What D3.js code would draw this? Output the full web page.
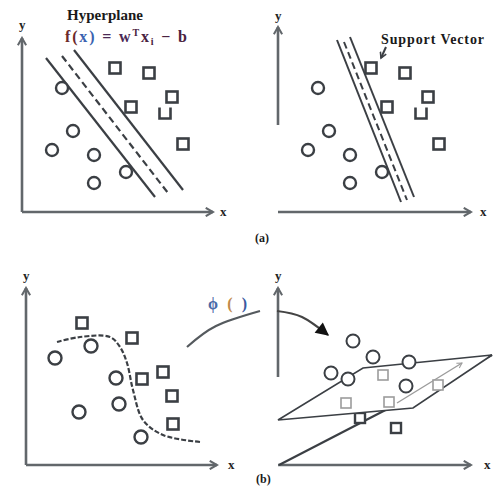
<!DOCTYPE html>
<html><head><meta charset="utf-8">
<script src="https://cdn.jsdelivr.net/npm/d3@7/dist/d3.min.js"></script>
<style>body{margin:0;background:#fff}svg{display:block}</style>
</head><body>
<svg id="c" width="494" height="501"></svg>
<script>
// ---- data (diagram coordinates, per panel, origin = axis corner) ----
const linSquares = [[93,144],[127,139],[150,115],[109,105],[143,99],[161,68]];
const linOpenTop = [false,false,false,false,true,false];
const linCircles = [[40,124],[51,81],[30,62],[72,57],[104,40],[72,29]];
const wideMargin = [[[24,154],[133,15]],[[40,156],[146,19]],[[52,162],[161,22]]];
const wideStyle = ["solid","dashed","solid"];
const narrowMargin = [[[59,172],[123,10]],[[66,170],[129,12]],[[72,175],[136,15]]];
const supportArrow = [[108,165],[103,154]];
const nlSquares = [[56,142],[106,127],[116,86],[137,93],[146,69],[147,41]];
const nlCircles = [[29,107],[65,119],[90,87],[53,53],[93,61],[115,28]];
const nlBoundary = [[31,123],[54,128],[84,128],[94,118],[101,102],[107,75],[117,45],[137,30],[174,23]];
const fCircles = [[75,124],[95,108],[53,92],[70,86],[131,103],[128,79]];
const fSquaresAbove = [[105,90],[68,62],[111,63],[160,80]];
const fSquaresBelow = [[82,47],[118,37]];
const fPlane = [[0,45],[85,97],[214,110],[135,57]];
const fFloorLine = [[1,0],[214,110]];
const fNormal = [[119,62],[184,102]];
const phiArc1 = [[-91,118],[-62,139],[-18,154]];
const phiArc2 = [[-1,154],[24,148],[50,130]];
// panels: origin and axis extents
const panels = [
  {id:"a1", ox:22, oy:212, xMax:191, yMin:0, yMax:174},
  {id:"a2", ox:278, oy:212, xMax:193, yMin:87, yMax:185},
  {id:"b1", ox:26, oy:465, xMax:191, yMin:0, yMax:177},
  {id:"b2", ox:278, oy:465, xMax:193, yMin:88, yMax:177}
];
const axisLabelOffsets = {a1:[7,-13], a2:[9,-11], b1:[11,-12], b2:[13,-12]};

const INK = "#3b3f44", AXIS = "#62676b", LIGHT = "#9c9c9c";
const svg = d3.select("#c");
const defs = svg.append("defs");
defs.append("marker").attr("id","ax").attr("viewBox","0 0 10 10").attr("refX",8).attr("refY",5)
  .attr("markerWidth",4).attr("markerHeight",4).attr("orient","auto").attr("markerUnits","strokeWidth")
  .append("path").attr("d","M1,1 L8,5 L1,9").attr("fill","none").attr("stroke",AXIS).attr("stroke-width",2);
defs.append("marker").attr("id","blk").attr("viewBox","0 0 10 10").attr("refX",9).attr("refY",5)
  .attr("markerWidth",7).attr("markerHeight",6).attr("orient","auto").attr("markerUnits","strokeWidth")
  .append("path").attr("d","M0,0 L10,5 L0,10 z").attr("fill","#111");
defs.append("marker").attr("id","sv").attr("viewBox","0 0 10 10").attr("refX",8).attr("refY",5)
  .attr("markerWidth",4).attr("markerHeight",4).attr("orient","auto").attr("markerUnits","strokeWidth")
  .append("path").attr("d","M1,1 L8,5 L1,9").attr("fill","none").attr("stroke",INK).attr("stroke-width",2);
defs.append("marker").attr("id","gr").attr("viewBox","0 0 10 10").attr("refX",8).attr("refY",5)
  .attr("markerWidth",5).attr("markerHeight",5).attr("orient","auto").attr("markerUnits","strokeWidth")
  .append("path").attr("d","M1,1 L8,5 L1,9").attr("fill","none").attr("stroke",LIGHT).attr("stroke-width",1.5);

function scales(p){
  return {
    x: d3.scaleLinear().domain([0,200]).range([p.ox, p.ox+200]),
    y: d3.scaleLinear().domain([0,200]).range([p.oy, p.oy-200])
  };
}
const S = {};
panels.forEach(p => { S[p.id] = scales(p); });

// axes
panels.forEach(p => {
  const {x,y} = S[p.id];
  const g = svg.append("g");
  g.append("line").attr("x1",x(0)).attr("y1",y(0)).attr("x2",x(p.xMax)).attr("y2",y(0))
    .attr("stroke",AXIS).attr("stroke-width",2.6).attr("marker-end","url(#ax)");
  g.append("line").attr("x1",x(0)).attr("y1",y(p.yMin)).attr("x2",x(0)).attr("y2",y(p.yMax))
    .attr("stroke",AXIS).attr("stroke-width",2.6).attr("marker-end","url(#ax)");
  const o = axisLabelOffsets[p.id];
  g.append("text").attr("x",x(p.xMax)+o[0]).attr("y",y(0)+4).text("x")
    .attr("font-family","Liberation Serif").attr("font-weight","bold").attr("font-size",13).attr("fill","#222");
  g.append("text").attr("x",x(0)-3).attr("y",y(p.yMax)+o[1]+4).text("y")
    .attr("font-family","Liberation Serif").attr("font-weight","bold").attr("font-size",13).attr("fill","#222");
});

function drawSquares(g, s, data, size, color, sw, openTop){
  data.forEach((d,i) => {
    const cx = s.x(d[0]), cy = s.y(d[1]), h = size/2;
    if (openTop && openTop[i]) {
      g.append("path").attr("d",`M${cx-h},${cy-h} L${cx-h},${cy+h} L${cx+h},${cy+h} L${cx+h},${cy-h}`)
        .attr("fill","none").attr("stroke",color).attr("stroke-width",sw);
    } else {
      g.append("rect").attr("x",cx-h).attr("y",cy-h).attr("width",size).attr("height",size)
        .attr("fill","#fff").attr("stroke",color).attr("stroke-width",sw);
    }
  });
}
function drawCircles(g, s, data, r, color, sw){
  g.selectAll(null).data(data).join("circle")
    .attr("cx",d=>s.x(d[0])).attr("cy",d=>s.y(d[1])).attr("r",r)
    .attr("fill","#fff").attr("stroke",color).attr("stroke-width",sw);
}
function drawSeg(g, s, seg, style, color, sw){
  g.append("line").attr("x1",s.x(seg[0][0])).attr("y1",s.y(seg[0][1]))
    .attr("x2",s.x(seg[1][0])).attr("y2",s.y(seg[1][1]))
    .attr("stroke",color).attr("stroke-width",sw)
    .attr("stroke-dasharray", style==="dashed" ? "7,4" : null);
}

// ---- panel a1 ----
{
  const s = S.a1, g = svg.append("g");
  wideMargin.forEach((seg,i) => drawSeg(g, s, seg, wideStyle[i], INK, 2.2));
  drawSquares(g, s, linSquares, 11, INK, 2.6, linOpenTop);
  drawCircles(g, s, linCircles, 6, INK, 2.4);
  g.append("text").attr("x",67).attr("y",20).text("Hyperplane")
    .attr("font-family","Liberation Serif").attr("font-weight","bold").attr("font-size",15)
    .attr("textLength",76).attr("fill","#1a1a1a");
  const t = g.append("text").attr("x",65).attr("y",42)
    .attr("font-family","Liberation Serif").attr("font-weight","bold").attr("font-size",16)
    .attr("fill","#4a2240").attr("textLength",122).attr("lengthAdjust","spacing");
  t.append("tspan").text("f(").attr("fill","#6b2a2a");
  t.append("tspan").text("x").attr("fill","#3a62b0");
  t.append("tspan").text(")").attr("fill","#3a62b0");
  t.append("tspan").text(" = w").attr("fill","#4a2a55");
  t.append("tspan").text("T").attr("font-size",10).attr("dy",-6);
  t.append("tspan").text("x").attr("dy",6);
  t.append("tspan").text("i").attr("font-size",10).attr("dy",3);
  t.append("tspan").text(" − b").attr("dy",-3);
}
// ---- panel a2 ----
{
  const s = S.a2, g = svg.append("g");
  narrowMargin.forEach((seg,i) => drawSeg(g, s, seg, wideStyle[i], INK, 2));
  drawSquares(g, s, linSquares, 11, INK, 2.6, linOpenTop);
  drawCircles(g, s, linCircles, 6, INK, 2.4);
  g.append("line").attr("x1",s.x(supportArrow[0][0])).attr("y1",s.y(supportArrow[0][1]))
    .attr("x2",s.x(supportArrow[1][0])).attr("y2",s.y(supportArrow[1][1]))
    .attr("stroke",INK).attr("stroke-width",2).attr("marker-end","url(#sv)");
  g.append("text").attr("x",381).attr("y",44).text("Support Vector")
    .attr("font-family","Liberation Serif").attr("font-weight","bold").attr("font-size",14)
    .attr("textLength",103).attr("fill","#1a1a1a");
}
svg.append("text").attr("x",255).attr("y",242).text("(a)")
  .attr("font-family","Liberation Serif").attr("font-weight","bold").attr("font-size",12).attr("fill","#1a1a1a");
// ---- panel b1 ----
{
  const s = S.b1, g = svg.append("g");
  g.append("path").datum(nlBoundary)
    .attr("d", d3.line().x(d=>s.x(d[0])).y(d=>s.y(d[1])).curve(d3.curveCatmullRom))
    .attr("fill","none").attr("stroke",INK).attr("stroke-width",2.2).attr("stroke-dasharray","5,2");
  drawSquares(g, s, nlSquares, 11, INK, 2.6);
  drawCircles(g, s, nlCircles, 6.5, INK, 2.4);
}
// ---- panel b2 ----
{
  const s = S.b2, g = svg.append("g");
  const ln = d3.line().x(d=>s.x(d[0])).y(d=>s.y(d[1]));
  drawSeg(g, s, fFloorLine, "solid", INK, 2.2);
  drawSquares(g, s, fSquaresBelow, 10, INK, 2.4);
  g.append("path").attr("d", ln(fPlane)+"Z").attr("fill","#fff")
    .attr("stroke",INK).attr("stroke-width",1.6);
  g.append("line").attr("x1",s.x(fNormal[0][0])).attr("y1",s.y(fNormal[0][1]))
    .attr("x2",s.x(fNormal[1][0])).attr("y2",s.y(fNormal[1][1]))
    .attr("stroke",LIGHT).attr("stroke-width",1.4).attr("marker-end","url(#gr)");
  drawSquares(g, s, fSquaresAbove, 10, LIGHT, 1.6);
  drawCircles(g, s, fCircles, 6.5, INK, 2);
  const arc = d3.line().x(d=>s.x(d[0])).y(d=>s.y(d[1])).curve(d3.curveNatural);
  svg.append("path").attr("d", arc(phiArc1)).attr("fill","none").attr("stroke","#555a5e").attr("stroke-width",2.2);
  svg.append("path").attr("d", arc(phiArc2)).attr("fill","none").attr("stroke","#444").attr("stroke-width",2.2)
    .attr("marker-end","url(#blk)");
  const t = svg.append("text").attr("x",208).attr("y",309)
    .attr("font-family","Liberation Serif").attr("font-weight","bold").attr("font-size",16)
    .attr("textLength",39).attr("lengthAdjust","spacing");
  t.append("tspan").text("ϕ").attr("fill","#4a6aa8");
  t.append("tspan").text(" (").attr("fill","#c08a4a");
  t.append("tspan").text(" )").attr("fill","#3a5aa0");
}
svg.append("text").attr("x",256).attr("y",483).text("(b)")
  .attr("font-family","Liberation Serif").attr("font-weight","bold").attr("font-size",12).attr("fill","#1a1a1a");
</script>
</body></html>
